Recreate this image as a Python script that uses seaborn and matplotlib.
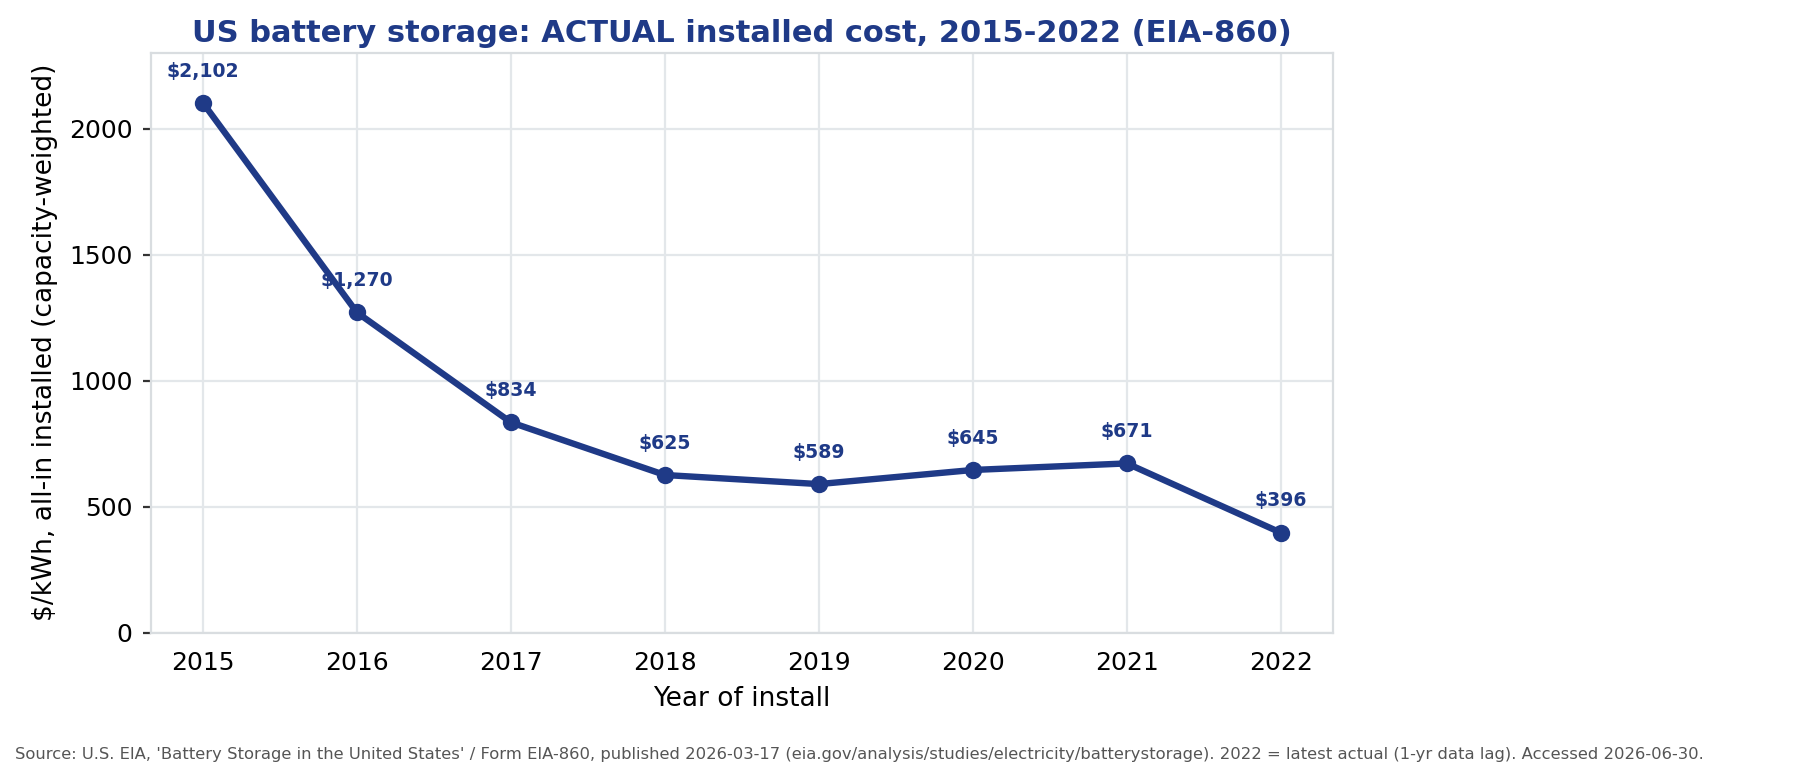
import matplotlib
matplotlib.use("Agg")
import matplotlib.pyplot as plt
import seaborn as sns
import pandas as pd

years = [2015, 2016, 2017, 2018, 2019, 2020, 2021, 2022]
costs = [2102, 1270, 834, 625, 589, 645, 671, 396]
labels = ["$2,102", "$1,270", "$834", "$625", "$589", "$645", "$671", "$396"]

navy = "#1f3a87"
df = pd.DataFrame({"year": years, "cost": costs})

sns.set_style("whitegrid", {"grid.color": "#e3e7ea", "axes.edgecolor": "#d9dde0",
                            "text.color": "black", "xtick.color": "black",
                            "ytick.color": "black", "axes.labelcolor": "black"})
fig = plt.figure(figsize=(9.07, 3.89), dpi=200)
ax = fig.add_axes([0.083, 0.187, 0.652, 0.745])

sns.lineplot(data=df, x="year", y="cost", ax=ax, color=navy, linewidth=2.3,
             marker="o", markersize=5.5, markeredgecolor=navy)
for x, y, t in zip(years, costs, labels):
    ax.annotate(t, (x, y), xytext=(0, 8), textcoords="offset points",
                ha="center", va="bottom", fontsize=6.8, fontweight="bold", color=navy)

ax.set_xlim(2014.66, 2022.34)
ax.set_ylim(0, 2300)
ax.set_yticks([0, 500, 1000, 1500, 2000])
ax.set_xticks(years)
ax.tick_params(axis="both", labelsize=9, length=3, color="#333333")
ax.tick_params(axis="x", bottom=False)
ax.tick_params(axis="y", left=True)
ax.set_xlabel("Year of install", fontsize=9.5)
ax.set_ylabel("$/kWh, all-in installed (capacity-weighted)", fontsize=9.5)
ax.set_title("US battery storage: ACTUAL installed cost, 2015-2022 (EIA-860)",
             fontsize=11, fontweight="bold", color=navy, pad=4)
fig.text(0.008, 0.02,
         "Source: U.S. EIA, 'Battery Storage in the United States' / Form EIA-860, published 2026-03-17 "
         "(eia.gov/analysis/studies/electricity/batterystorage). 2022 = latest actual (1-yr data lag). Accessed 2026-06-30.",
         fontsize=5.9, color="#555555", ha="left", va="bottom")

fig.savefig("out.png", dpi=200)
